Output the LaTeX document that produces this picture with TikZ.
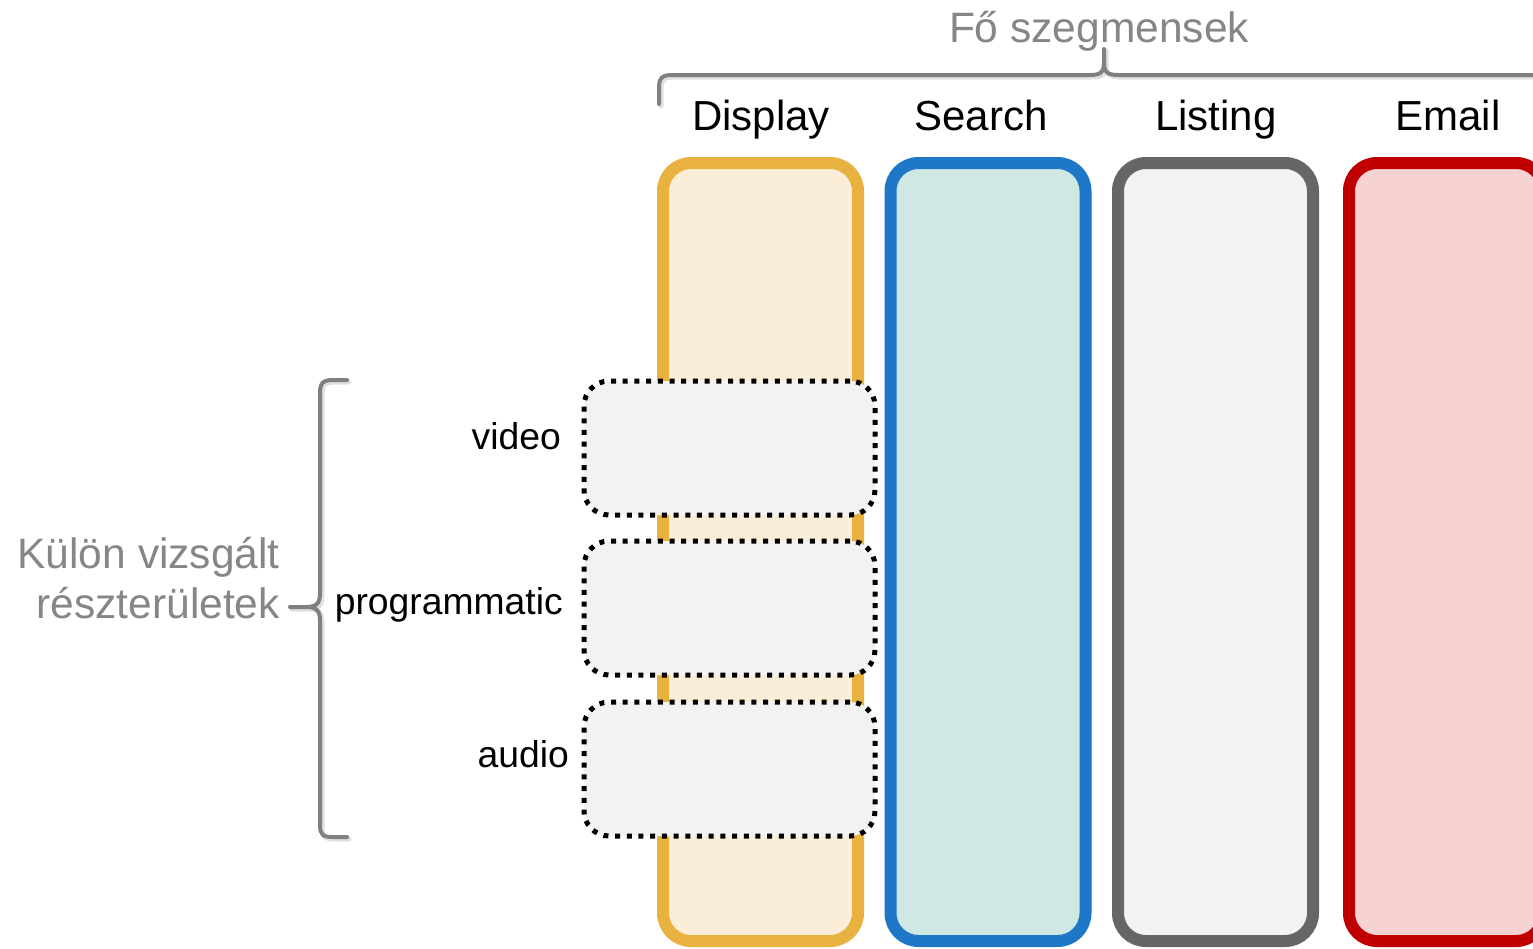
\documentclass[tikz,border=0pt]{standalone}
\usepackage{fontspec}
\setmainfont{Liberation Sans}
\definecolor{dispS}{HTML}{E9B240}
\definecolor{dispF}{HTML}{FAEED9}
\definecolor{searS}{HTML}{1F77C8}
\definecolor{searF}{HTML}{D0E8E4}
\definecolor{listS}{HTML}{666666}
\definecolor{listF}{HTML}{F2F2F2}
\definecolor{mailS}{HTML}{C00000}
\definecolor{mailF}{HTML}{F7D2D2}
\definecolor{txtgray}{HTML}{868686}
\definecolor{bracegray}{HTML}{808080}
\tikzset{
 col/.style={draw, line width=12pt, rounded corners=28pt, minimum width=195pt, minimum height=778pt, inner sep=0pt},
 sub/.style={draw=black, fill=listF, line width=5pt, dash pattern=on 5pt off 6.7pt, rounded corners=25pt, minimum width=291pt, minimum height=134pt, inner sep=0pt},
 head/.style={font=\fontsize{42}{50}\selectfont, inner sep=0pt, anchor=base},
 subl/.style={font=\fontsize{37.3}{44}\selectfont, inner sep=0pt, anchor=base east},
 grayt/.style={text=txtgray, font=\fontsize{42.5}{50}\selectfont, inner sep=0pt},
 brace/.style={draw=bracegray, line width=4pt, line join=round, line cap=round},
 braceshadow/.style={draw=black, opacity=0.12, line width=5pt, line join=round, line cap=round}
}
\begin{document}
\begin{tikzpicture}[x=1pt,y=-1pt]
\useasboundingbox[fill=white] (0,0) rectangle (1533,948);
% columns
\node[col, draw=dispS, fill=dispF] (display) at (760.5,552) {};
\node[col, draw=searS, fill=searF] (search) at (988,552) {};
\node[col, draw=listS, fill=listF] (listing) at (1215.5,552) {};
\node[col, draw=mailS, fill=mailF] (email) at (1446.5,552) {};
% headings
\node[head] (hdisplay) at (761,130) {Display};
\node[head] (hsearch) at (981,130) {Search};
\node[head] (hlisting) at (1216,130) {Listing};
\node[head] (hemail) at (1448,130) {Email};
\node[grayt, anchor=base] (fo) at (1099,42) {Fő szegmensek};
% sub areas
\node[sub] (video) at (729.5,448) {};
\node[sub] (prog) at (729.5,608) {};
\node[sub] (audio) at (729.5,769) {};
\node[subl] (lvideo) at (561,449) {video};
\node[subl] (lprog) at (563,614) {programmatic};
\node[subl] (laudio) at (569,767) {audio};
\node[grayt, anchor=base east] (kulon1) at (280,568) {Külön vizsgált};
\node[grayt, anchor=base east] (kulon2) at (280,618) {részterületek};
% brace shadows
\begin{scope}[xshift=2pt,yshift=-2pt]
\draw[braceshadow] (659,104) -- (659,88) .. controls (659,78) and (662,75) .. (672,75) -- (1090,75) .. controls (1101,75) and (1104,72) .. (1104,62) -- (1104,49) -- (1104,62) .. controls (1104,72) and (1107,75) .. (1118,75) -- (1560,75);
\draw[braceshadow] (347,380) -- (333,380) .. controls (323,380) and (320,383) .. (320,393) -- (320,593) .. controls (320,603) and (317,607) .. (306,607) -- (290,607) -- (306,607) .. controls (317,607) and (320,611) .. (320,621) -- (320,825) .. controls (320,835) and (323,837) .. (333,837) -- (347,837);
\end{scope}
% top brace
\draw[brace] (659,104) -- (659,88) .. controls (659,78) and (662,75) .. (672,75) -- (1090,75) .. controls (1101,75) and (1104,72) .. (1104,62) -- (1104,49) -- (1104,62) .. controls (1104,72) and (1107,75) .. (1118,75) -- (1560,75);
% left brace
\draw[brace] (347,380) -- (333,380) .. controls (323,380) and (320,383) .. (320,393) -- (320,593) .. controls (320,603) and (317,607) .. (306,607) -- (290,607) -- (306,607) .. controls (317,607) and (320,611) .. (320,621) -- (320,825) .. controls (320,835) and (323,837) .. (333,837) -- (347,837);
\end{tikzpicture}
\end{document}
